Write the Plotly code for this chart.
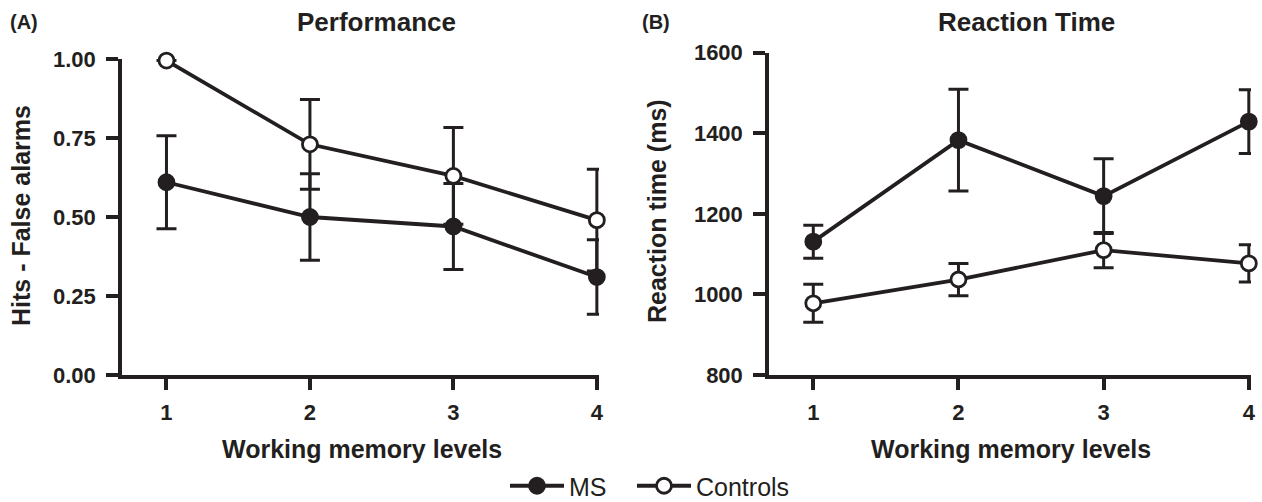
import plotly.graph_objects as go

levels = [1, 2, 3, 4]
tick_labels = ["1", "2", "3", "4"]

perf_ms = [0.61, 0.50, 0.47, 0.31]
perf_ms_err = [0.147, 0.137, 0.136, 0.118]
perf_ctrl = [0.995, 0.73, 0.63, 0.49]
perf_ctrl_err = [None, 0.142, 0.153, 0.161]

rt_ms = [1131, 1383, 1244, 1429]
rt_ms_err = [41, 126, 93, 79]
rt_ctrl = [978, 1037, 1110, 1077]
rt_ctrl_err = [47, 40, 44, 46]

perf_ticks = [0, 0.25, 0.5, 0.75, 1.0]
rt_ticks = [800, 1000, 1200, 1400, 1600]

W, H = 1262, 502
FONT = "Liberation Sans, Arial, sans-serif"
BLACK = "#231f20"


def px_x(p):
    return p / W


def px_y(p):
    return 1 - p / H


def series(x, y, err, name, filled, xa, ya, show, leg="legend"):
    return go.Scatter(
        x=x, y=y, name=name, mode="lines+markers",
        xaxis=xa, yaxis=ya, showlegend=show, legend=leg, cliponaxis=False,
        line=dict(color=BLACK, width=3.8),
        marker=dict(symbol="circle", size=15,
                    color=BLACK if filled else "white",
                    line=dict(color=BLACK, width=2.8)),
        error_y=dict(type="data", array=err, visible=True,
                     color=BLACK, thickness=3, width=10),
    )


fig = go.Figure()
fig.add_trace(series(levels, perf_ms, perf_ms_err, "MS", True, "x", "y", True, "legend"))
fig.add_trace(series(levels, perf_ctrl, perf_ctrl_err, "Controls", False, "x", "y", True, "legend2"))
fig.add_trace(series(levels, rt_ms, rt_ms_err, "MS", True, "x2", "y2", False))
fig.add_trace(series(levels, rt_ctrl, rt_ctrl_err, "Controls", False, "x2", "y2", False))

tickfont = dict(family=FONT, size=22, color=BLACK, weight="bold")
common_x = dict(
    tickmode="array", tickvals=levels, ticktext=tick_labels,
    showline=True, linewidth=3.5, linecolor=BLACK, mirror=False,
    ticks="outside", ticklen=11, tickwidth=3.5, tickcolor=BLACK,
    showgrid=False, zeroline=False, tickfont=tickfont, ticklabelstandoff=4,
)
common_y = dict(
    showline=True, linewidth=3.5, linecolor=BLACK,
    ticks="outside", ticklen=12, tickwidth=3.5, tickcolor=BLACK,
    showgrid=False, zeroline=False, tickfont=tickfont, ticklabelstandoff=6,
)

legfont = dict(family=FONT, size=25, color=BLACK)
fig.update_layout(
    width=W, height=H,
    margin=dict(l=0, r=0, t=0, b=0, autoexpand=False),
    paper_bgcolor="white", plot_bgcolor="white",
    xaxis=dict(domain=[px_x(122), px_x(599)], range=[0.69, 4.015], anchor="y", **common_x),
    yaxis=dict(domain=[px_y(375), px_y(59)], range=[0, 1.0], anchor="x",
               tickmode="array", tickvals=perf_ticks,
               ticktext=[f"{v:.2f}" for v in perf_ticks], **common_y),
    xaxis2=dict(domain=[px_x(769), px_x(1251)], range=[0.695, 4.015], anchor="y2", **common_x),
    yaxis2=dict(domain=[px_y(375), px_y(52.7)], range=[800, 1600], anchor="x2",
                tickmode="array", tickvals=rt_ticks,
                ticktext=[str(v) for v in rt_ticks], **common_y),
    showlegend=True,
    legend=dict(orientation="h", x=px_x(505), y=px_y(486), xanchor="left", yanchor="middle",
                font=legfont, itemwidth=54, bgcolor="rgba(0,0,0,0)"),
    legend2=dict(orientation="h", x=px_x(632), y=px_y(486), xanchor="left", yanchor="middle",
                 font=legfont, itemwidth=54, bgcolor="rgba(0,0,0,0)"),
)

bold = lambda s: dict(family=FONT, size=s, color=BLACK, weight="bold")
annots = [
    dict(text="(A)", x=px_x(8), y=px_y(22), xanchor="left", font=bold(20)),
    dict(text="(B)", x=px_x(640), y=px_y(22), xanchor="left", font=bold(20)),
    dict(text="Performance", x=px_x(376.5), y=px_y(22), xanchor="center", font=bold(26)),
    dict(text="Reaction Time", x=px_x(1026), y=px_y(22), xanchor="center", font=bold(26)),
    dict(text="Working memory levels", x=px_x(362), y=px_y(449), xanchor="center", font=bold(25)),
    dict(text="Working memory levels", x=px_x(1011), y=px_y(449), xanchor="center", font=bold(25)),
    dict(text="Hits - False alarms", x=px_x(21), y=px_y(216), xanchor="center",
         textangle=-90, font=bold(25)),
    dict(text="Reaction time (ms)", x=px_x(657), y=px_y(211), xanchor="center",
         textangle=-90, font=bold(25)),
]
for a in annots:
    fig.add_annotation(xref="paper", yref="paper", showarrow=False, yanchor="middle", **a)

fig.write_html("out.html", config={"displayModeBar": False},
               post_script="document.body.style.margin='0';")
